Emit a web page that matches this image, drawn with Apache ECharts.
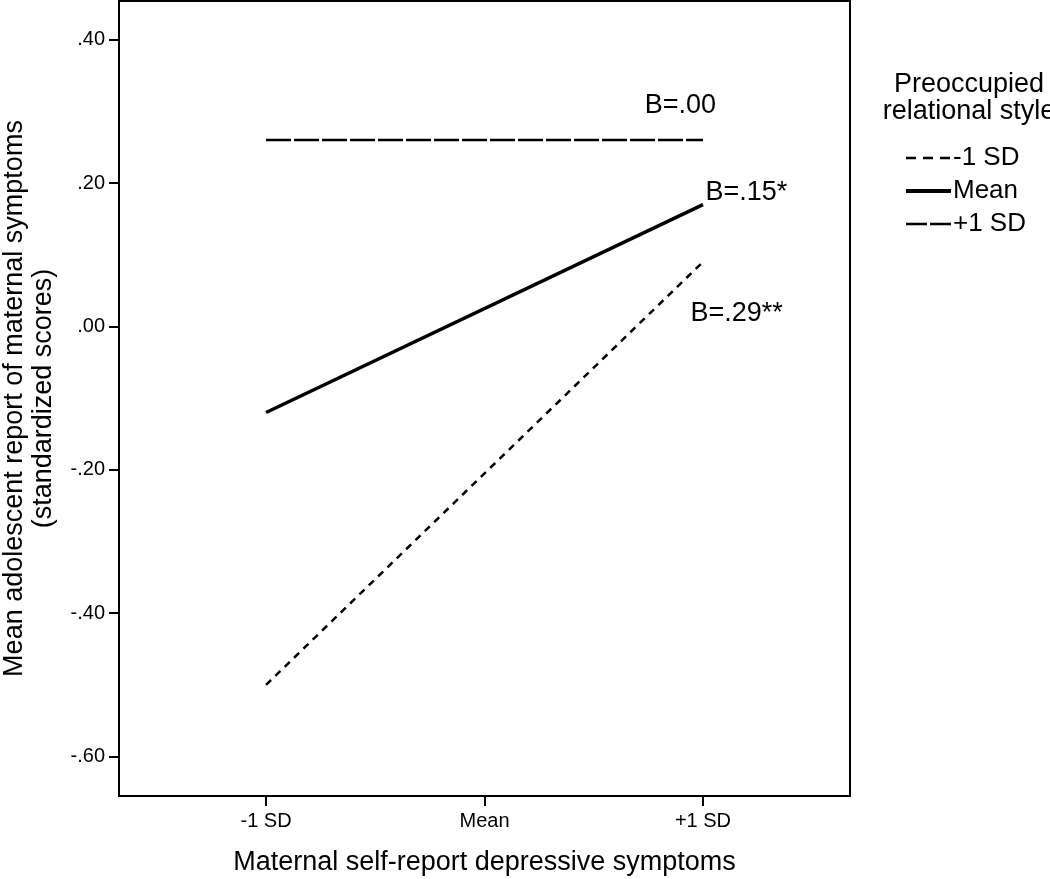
<!DOCTYPE html>
<html>
<head>
<meta charset="utf-8">
<script src="https://cdn.jsdelivr.net/npm/echarts@6/dist/echarts.min.js"></script>
<style>
html,body{margin:0;padding:0;background:#fff;}
#chart{width:1050px;height:879px;}
</style>
</head>
<body>
<div id="chart"></div>
<script>
// Data
const xCategories = ['-1 SD', 'Mean', '+1 SD'];
const xPositions = [0, 1, 2];
const seriesNames = ['-1 SD', 'Mean', '+1 SD'];
const lowValues = [-0.50, 0.09];   // -1 SD preoccupied
const meanValues = [-0.12, 0.17];  // Mean preoccupied
const highValues = [0.26, 0.26];   // +1 SD preoccupied
const slopeLabels = ['B=.29**', 'B=.15*', 'B=.00'];
const yTicks = [-0.6, -0.4, -0.2, 0, 0.2, 0.4];

const FONT = '"Liberation Sans", Arial, sans-serif';

function pts(vals) {
  return [[xPositions[0], vals[0]], [xPositions[2], vals[1]]];
}
function labelledPts(vals, label, lab) {
  const d = pts(vals);
  return [
    {value: d[0], label: {show: false}},
    {value: d[1], label: Object.assign({show: true, formatter: label, color: '#000', fontSize: 27, fontFamily: FONT}, lab)}
  ];
}

const chart = echarts.init(document.getElementById('chart'), null, {renderer: 'canvas'});
chart.setOption({
  animation: false,
  backgroundColor: '#fff',
  title: {
    text: 'Preoccupied\nrelational style',
    left: 964,
    top: 66,
    textAlign: 'center',
    textStyle: {fontFamily: FONT, fontSize: 27, fontWeight: 'normal', color: '#000', lineHeight: 27}
  },
  legend: {
    orient: 'vertical',
    left: 899,
    top: 140,
    itemWidth: 45,
    itemHeight: 14,
    itemGap: 7,
    textStyle: {fontFamily: FONT, fontSize: 26, color: '#000', padding: [0, 0, 0, -3]},
    data: [
      {name: seriesNames[0], lineStyle: {width: 2.5, type: [10, 7], color: '#000'}},
      {name: seriesNames[1], lineStyle: {width: 4, type: 'solid', color: '#000'}},
      {name: seriesNames[2], lineStyle: {width: 2.5, type: [21, 3], color: '#000'}}
    ]
  },
  grid: {
    left: 119, top: 1, right: 200, bottom: 83,
    outerBoundsMode: 'none',
    containLabel: false,
    show: true, borderColor: '#000', borderWidth: 2, backgroundColor: '#fff'
  },
  xAxis: {
    type: 'value',
    min: -0.673, max: 2.673,
    name: 'Maternal self-report depressive symptoms',
    nameLocation: 'middle',
    nameGap: 53,
    nameTextStyle: {fontFamily: FONT, fontSize: 27, color: '#000'},
    axisLine: {show: true, onZero: false, lineStyle: {color: '#000', width: 2}},
    axisTick: {show: true, customValues: xPositions, length: 10, lineStyle: {color: '#000', width: 2}},
    axisLabel: {
      customValues: xPositions,
      margin: 15,
      fontFamily: FONT, fontSize: 20, color: '#000',
      formatter: v => xCategories[Math.round(v)]
    },
    splitLine: {show: false}
  },
  yAxis: {
    type: 'value',
    min: -0.655, max: 0.454,
    name: 'Mean adolescent report of maternal symptoms\n(standardized scores)',
    nameLocation: 'middle',
    nameGap: 61,
    nameRotate: 90,
    nameTextStyle: {fontFamily: FONT, fontSize: 27, color: '#000', lineHeight: 29},
    axisLine: {show: true, onZero: false, lineStyle: {color: '#000', width: 2}},
    axisTick: {show: true, customValues: yTicks, length: 10, lineStyle: {color: '#000', width: 2}},
    axisLabel: {
      customValues: yTicks,
      margin: 14,
      padding: [8, 0, 0, 0],
      fontFamily: FONT, fontSize: 20, color: '#000',
      formatter: v => v.toFixed(2).replace(/^(-?)0\./, '$1.')
    },
    splitLine: {show: false}
  },
  series: [
    {
      name: seriesNames[0], type: 'line',
      symbol: 'circle', symbolSize: 1, showSymbol: true,
      itemStyle: {color: 'rgba(0,0,0,0)'},
      lineStyle: {color: '#000', width: 2.5, type: [7, 6]},
      data: labelledPts(lowValues, slopeLabels[0], {position: [-12, 52], align: 'left', verticalAlign: 'middle'}),
      z: 3
    },
    {
      name: seriesNames[1], type: 'line',
      symbol: 'circle', symbolSize: 1, showSymbol: true,
      itemStyle: {color: 'rgba(0,0,0,0)'},
      lineStyle: {color: '#000', width: 3.5, type: 'solid'},
      data: labelledPts(meanValues, slopeLabels[1], {position: [3, -12], align: 'left', verticalAlign: 'middle'}),
      z: 3
    },
    {
      name: seriesNames[2], type: 'line',
      symbol: 'circle', symbolSize: 1, showSymbol: true,
      itemStyle: {color: 'rgba(0,0,0,0)'},
      lineStyle: {color: '#000', width: 2.5, type: [25, 3]},
      data: labelledPts(highValues, slopeLabels[2], {position: [-22, -34], align: 'center', verticalAlign: 'middle'}),
      z: 3
    }
  ]
});
</script>
</body>
</html>
